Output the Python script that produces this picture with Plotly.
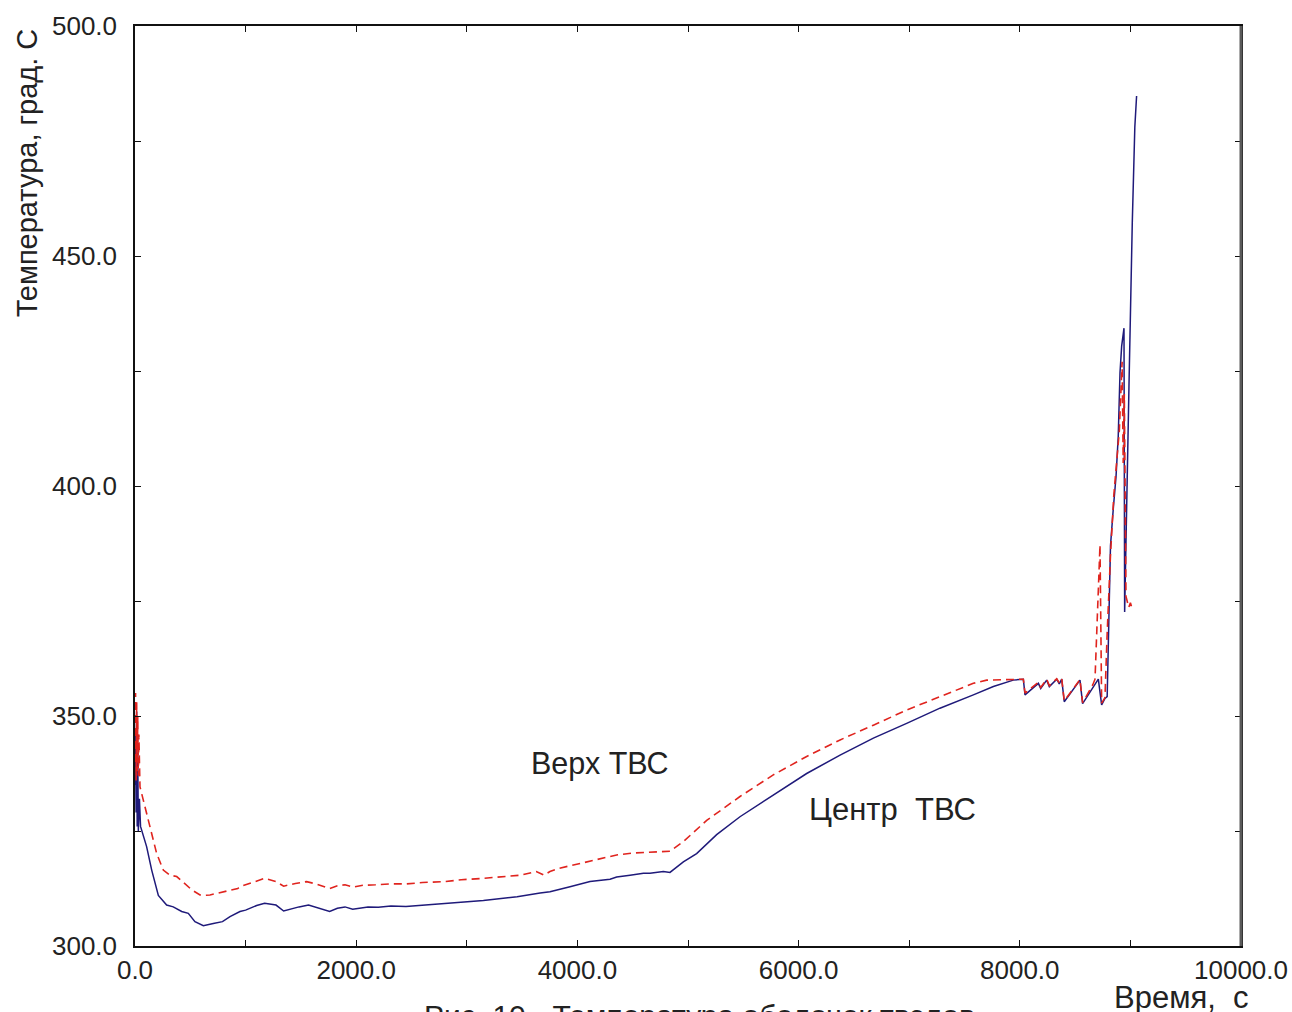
import plotly.graph_objects as go

# Fuel cladding temperature vs time, two locations in the assembly
# Centre of the assembly (solid line)
t_center = [0, 5, 10, 15, 20, 25, 30, 40, 50, 60, 105, 151, 211, 286, 346, 422, 482, 542,
            618, 708, 791, 859, 949, 1000, 1100, 1172, 1230, 1275, 1344, 1420, 1483, 1569,
            1650, 1760, 1830, 1899, 1968, 2107, 2200, 2314, 2450, 2625, 2800, 3005, 3150,
            3317, 3455, 3663, 3752, 3933, 4009, 4114, 4295, 4355, 4476, 4597, 4656, 4777,
            4837, 4958, 5078, 5259, 5470, 5771, 6073, 6375, 6676, 6977, 7278, 7580, 7761,
            7941, 8032, 8047, 8168, 8189, 8243, 8267, 8334, 8357, 8379, 8402, 8544, 8568,
            8710, 8740, 8770, 8790, 8805, 8820, 8845, 8870, 8890, 8906, 8921, 8942, 8948,
            8969, 8987, 9017, 9040, 9056]
temp_center = [335, 346, 329, 351, 326, 342, 325, 332, 326, 325.2, 321.6, 316.5, 311, 308.9,
               308.5, 307.5, 307.1, 305.3, 304.4, 304.9, 305.3, 306.4, 307.5, 307.8, 308.8,
               309.3, 309.1, 308.9, 307.6, 308.1, 308.5, 308.9, 308.3, 307.5, 308.2, 308.5,
               308.0, 308.5, 308.4, 308.7, 308.6, 308.9, 309.1, 309.6, 309.9, 310.3, 310.7,
               311.5, 311.8, 312.9, 313.3, 314.0, 314.5, 315.0, 315.4, 315.8, 315.8, 316.2,
               316.0, 318.3, 320.1, 324.2, 328.1, 332.8, 337.5, 341.5, 345.2, 348.4, 351.7,
               354.6, 356.4, 357.8, 358.0, 354.6, 357.1, 356.0, 357.8, 356.4, 358.0, 357.0,
               358.0, 353.1, 357.8, 352.7, 358.0, 352.4, 353.8, 354.2, 372.0, 387.0, 395.0,
               402.0, 410.7, 424.6, 430.4, 434.3, 372.6, 402.8, 421.5, 457.2, 478.0, 484.8]

# Top of the assembly (dashed line)
t_top = [0, 5, 10, 15, 20, 25, 30, 35, 45, 90, 151, 196, 256, 316, 377, 467, 514, 588, 618,
         678, 756, 798, 929, 949, 1060, 1172, 1275, 1344, 1450, 1552, 1650, 1760, 1830,
         1899, 1968, 2060, 2175, 2300, 2452, 2600, 2798, 2950, 3144, 3300, 3490, 3628,
         3698, 3752, 3836, 4054, 4200, 4355, 4500, 4626, 4837, 4958, 5169, 5470, 5771,
         6073, 6375, 6676, 6977, 7278, 7580, 7700, 8002, 8032, 8047, 8168, 8189, 8243,
         8267, 8334, 8357, 8379, 8402, 8544, 8568, 8660, 8680, 8700, 8725, 8740, 8770,
         8790, 8820, 8850, 8870, 8900, 8925, 8935, 8945, 8960, 8985, 9000, 9010]
temp_top = [340, 355, 336, 353, 338, 350, 337, 346, 334.6, 330.3, 324.5, 320.1, 316.5, 315.4,
            315.1, 313.3, 312.2, 311.1, 311.0, 311.1, 311.5, 311.8, 312.5, 312.9, 313.8,
            314.7, 314.0, 313.0, 313.6, 314.0, 313.4, 312.5, 313.1, 313.3, 312.8, 313.2,
            313.3, 313.5, 313.5, 313.8, 314.0, 314.4, 314.7, 315.0, 315.4, 316.2, 315.4,
            316.2, 316.9, 318.1, 318.9, 319.8, 320.2, 320.4, 320.6, 322.7, 327.3, 332.5,
            337.2, 341.2, 344.8, 348.0, 351.3, 354.2, 357.1, 357.8, 358.0, 358.0, 355.0,
            357.3, 356.2, 358.0, 356.6, 358.1, 357.2, 358.1, 353.3, 357.9, 352.9, 356.8,
            358.0, 372.0, 387.2, 352.8, 354.0, 368.0, 385.0, 398.0, 403.7, 412.0, 427.0,
            405.0, 420.0, 376.0, 373.6, 374.6, 373.8]

x_ticks = [0, 2000, 4000, 6000, 8000, 10000]
y_ticks = [300, 350, 400, 450, 500]

FONT = "Liberation Sans, Arial, sans-serif"
TXT = "#222222"

fig = go.Figure()
fig.add_trace(go.Scatter(x=t_center, y=temp_center, mode="lines",
                         line=dict(color="#1f1a7a", width=1.5), showlegend=False))
fig.add_trace(go.Scatter(x=t_top, y=temp_top, mode="lines",
                         line=dict(color="#e0241e", width=1.6, dash="8px,5px"), showlegend=False))

axis_common = dict(showgrid=False, zeroline=False, showline=True, linecolor="#111111",
                   linewidth=1.5, ticks="inside", ticklen=6, tickcolor="#111111",
                   mirror="ticks", tickformat=".1f", automargin=False,
                   tickfont=dict(family=FONT, size=26, color=TXT))

fig.update_xaxes(range=[0, 10000], tickvals=x_ticks, ticklabelstandoff=0,
                 minor=dict(dtick=1000, ticks="inside", ticklen=6, tickcolor="#111111"),
                 **axis_common)
fig.update_yaxes(range=[300, 500], tickvals=y_ticks, ticklabelstandoff=11,
                 minor=dict(dtick=25, ticks="inside", ticklen=6, tickcolor="#111111"),
                 **axis_common)


def label(text, x, y, size, **kw):
    return dict(text=text, x=x, y=y, xref="paper", yref="paper", showarrow=False,
                xanchor=kw.pop("xanchor", "center"), yanchor=kw.pop("yanchor", "middle"),
                font=dict(family=FONT, size=size, color=TXT), **kw)


annotations = [
    label("Верх ТВС", 0.4204, 0.1989, 30.5),
    label("Центр  ТВС", 0.6845, 0.1489, 31),
    label("Температура, град. С", -0.0976, 0.840, 29, textangle=-90),
    label("Время,  с", 0.9458, -0.0565, 31),
    label("Рис. 10 - Температура оболочек твэлов", 0.2595, -0.0750, 30, xanchor="left"),
]

fig.update_layout(
    width=1292, height=1012,
    margin=dict(l=135, r=51, t=26, b=66),
    paper_bgcolor="white", plot_bgcolor="white",
    annotations=annotations,
    shapes=[dict(type="line", xref="paper", yref="paper", x0=1, x1=1, y0=0, y1=1,
                 line=dict(color="#5a5a5a", width=3))],
)

fig.write_html("out.html")
